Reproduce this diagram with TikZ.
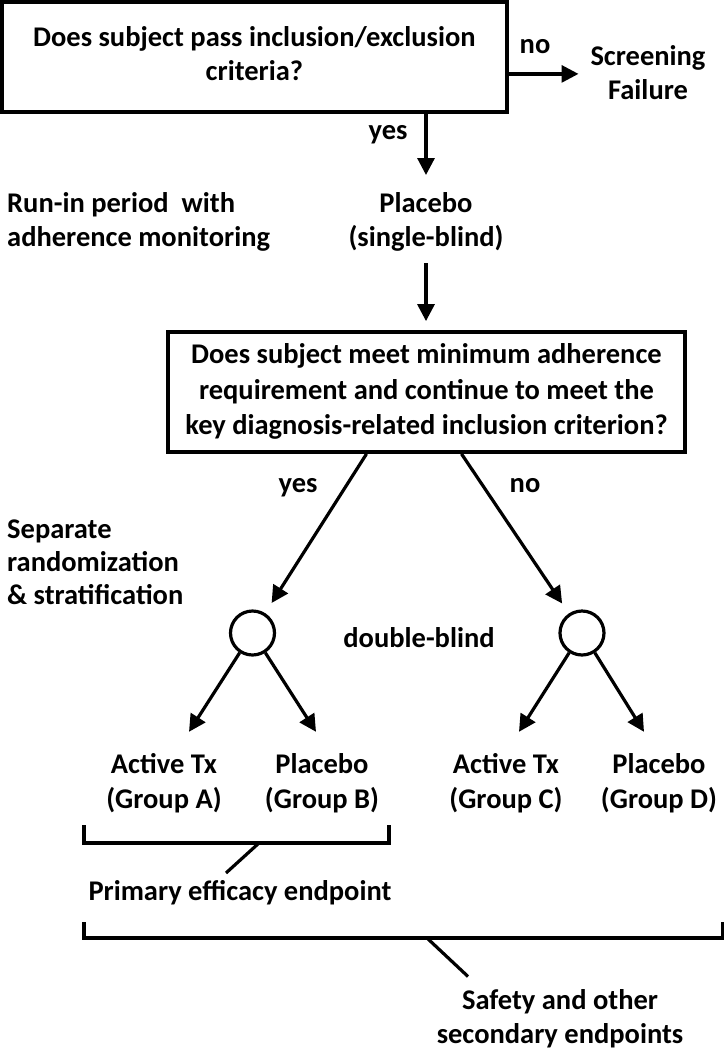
\documentclass[tikz,border=0pt]{standalone}
\usepackage{fontspec}
\setmainfont{Carlito}
\usetikzlibrary{arrows.meta}
\begin{document}
\begin{tikzpicture}[x=1pt,y=-1pt,
  every node/.style={inner sep=0pt, font=\bfseries\fontsize{28.5}{34}\selectfont},
  arr/.style={line width=3.2pt, -{Triangle[length=17pt,width=17pt]}},
  ln/.style={line width=3.2pt},
  qbox/.style={draw, line width=3.8pt, align=center},
  txt/.style={align=center},
  ltxt/.style={align=left, anchor=west},
  grp/.style={align=center, font=\bfseries\fontsize{28.5}{35}\selectfont},
  rnd/.style={circle, draw, line width=3.2pt, minimum size=44pt}]
\useasboundingbox (0,0) rectangle (724,1050);

% top question
\node[qbox, minimum width=505pt, minimum height=110pt] (q1) at (254.4,56.9)
  {\strut Does subject pass inclusion/exclusion\\\strut criteria?};
\node[txt] (no1) at (535,46.2) {\strut no};
\node[txt, outer xsep=12pt] (sf) at (648,76) {\strut Screening\\\strut Failure};
\coordinate (q1r) at ([yshift=-17pt]q1.east);
\draw[arr] (q1r) -- (q1r -| sf.west);

\node[txt] (yes1) at (388,133) {\strut yes};
\node[txt] (pl) at (426,222.2) {\strut Placebo\\\strut (single-blind)};
\node[ltxt] (runin) at (7,222.2) {\strut Run-in period\ \ with\\\strut adherence monitoring};
\draw[arr] (pl.north |- q1.south) -- ([yshift=13pt]pl.north);

% second question
\node[qbox, minimum width=517pt, minimum height=120pt,
      font=\bfseries\fontsize{28.5}{35.5}\selectfont] (q2) at (426.5,392)
  {\strut Does subject meet minimum adherence\\\strut requirement and continue to meet the\\\strut key diagnosis-related inclusion criterion?};
\draw[arr, shorten >=9pt] ([yshift=-7pt]pl.south) -- (pl.south |- q2.north);

\node[txt] (yes2) at (298,485.2) {\strut yes};
\node[txt] (no2) at (525,485.2) {\strut no};
\node[rnd] (c1) at (252.5,633) {};
\node[rnd] (c2) at (582,633) {};
\draw[arr, shorten >=12pt] ([xshift=-60pt]q2.south) -- (c1);
\draw[arr, shorten >=12pt] ([xshift=35pt]q2.south) -- (c2);

\node[ltxt, font=\bfseries\fontsize{28.5}{33}\selectfont] (sep) at (7,564.4)
  {\strut Separate\\\strut randomization\\\strut \& stratification};
\node[txt] (db) at (419,640.2) {\strut double-blind};

% groups
\node[grp] (ga) at (164,783.5) {\strut Active Tx\\\strut (Group A)};
\node[grp] (gb) at (322,783.5) {\strut Placebo\\\strut (Group B)};
\node[grp] (gc) at (506,783.5) {\strut Active Tx\\\strut (Group C)};
\node[grp] (gd) at (659,783.5) {\strut Placebo\\\strut (Group D)};
\draw[arr] (c1.237) -- ([xshift=25pt,yshift=16.5pt]ga.north);
\draw[arr] (c1.303) -- ([xshift=-6pt,yshift=16.5pt]gb.north);
\draw[arr] (c2.237) -- ([xshift=13pt,yshift=16.5pt]gc.north);
\draw[arr] (c2.303) -- ([xshift=-15pt,yshift=16.5pt]gd.north);

% brackets
\coordinate (b1l) at (84,825);
\coordinate (b1r) at (389,825);
\coordinate (b1m) at (259,843);
\draw[ln] (b1l) -- ++(0,18) -| (b1r);
\node[txt] (pe) at (240,893.2) {\strut Primary efficacy endpoint};
\draw[ln] (b1m) -- ([xshift=-14pt,yshift=3pt]pe.north);

\coordinate (b2l) at (84,922);
\coordinate (b2r) at (722.5,922);
\coordinate (b2m) at (427,938);
\draw[ln] (b2l) -- ++(0,16) -| (b2r);
\node[txt] (saf) at (560,1019.7) {\strut Safety and other\\\strut secondary endpoints};
\draw[ln] (b2m) -- ([xshift=-92pt,yshift=9pt]saf.north);
\end{tikzpicture}
\end{document}
